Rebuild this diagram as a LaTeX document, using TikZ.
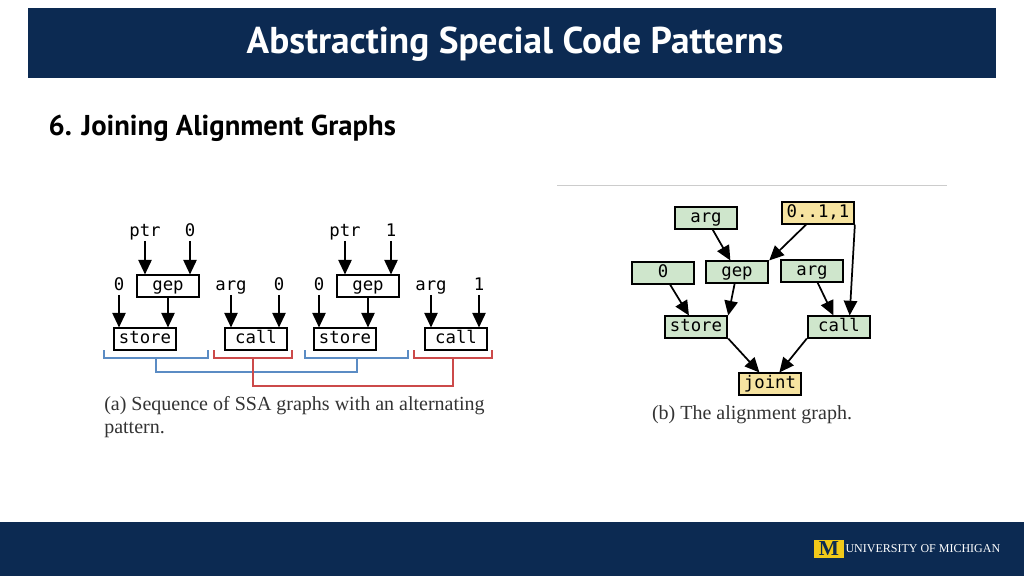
\documentclass[tikz,border=0pt]{standalone}
\usepackage{fontspec}
\setmainfont{Liberation Serif}
\newfontfamily\headfont{PT Sans}
\newfontfamily\codefont{DejaVu Sans Mono}
\usetikzlibrary{arrows.meta}
\usetikzlibrary{positioning}
\definecolor{umnavy}{HTML}{0C2A52}
\definecolor{umgold}{HTML}{F2C919}
\definecolor{opgreen}{HTML}{CFE6CC}
\definecolor{opyellow}{HTML}{F6E3A0}
\definecolor{setblue}{HTML}{5B8CC4}
\definecolor{setred}{HTML}{CC4A4A}
\tikzset{
  op/.style={draw,line width=1.3pt,minimum width=47pt,minimum height=16pt,
    inner sep=1pt,text height=9pt,text depth=2pt,
    font=\codefont\fontsize{13}{13}\selectfont},
  val/.style={inner sep=1pt,text height=9pt,text depth=2pt,
    font=\codefont\fontsize{13}{13}\selectfont},
  green/.style={op,fill=opgreen},
  yellow/.style={op,fill=opyellow},
  flow/.style={-{Triangle[width=10pt,length=11pt]},line width=1.3pt},
  bracket/.style={line width=0.8pt}
}
\begin{document}
\begin{tikzpicture}[x=0.75pt,y=-0.75pt]
  \useasboundingbox (0,0) rectangle (1024,576);

  % header and footer
  \fill[umnavy] (28,8) rectangle (996,78);
  \node[text=white,font=\headfont\bfseries\fontsize{28}{28}\selectfont]
    (Title) at (515,44) {Abstracting Special Code Patterns};
  \node[anchor=west,font=\headfont\bfseries\fontsize{21.5}{21.5}\selectfont]
    (Step) at (44,128) {6. Joining Alignment Graphs};
  \fill[umnavy] (0,522) rectangle (1024,576);
  \node[fill=umgold,text=umnavy,font=\bfseries\fontsize{16}{16}\selectfont,
    inner sep=0pt,minimum width=22pt,minimum height=14pt]
    (Logo) at (829,549) {M};
  \node[anchor=west,text=white,inner sep=1pt,font=\fontsize{9}{9}\selectfont]
    (Uni) at (Logo.east) {UNIVERSITY OF MICHIGAN};
  \draw[gray!40,line width=0.6pt] (557,185) -- (947,185);

  % (a) sequence of SSA graphs
  \node[val] (PtrA) at (145,232) {ptr};
  \node[val] (ZeroA) at (190,232) {0};
  \node[val] (PtrB) at (345,232) {ptr};
  \node[val] (OneB) at (391,232) {1};
  \node[op] (GepA) at (168,286) {gep};
  \node[op] (GepB) at (368,286) {gep};
  \node[val] (ZeroC) at (119,286) {0};
  \node[val] (ArgA) at (231,286) {arg};
  \node[val] (ZeroD) at (279,286) {0};
  \node[val] (ZeroE) at (319,286) {0};
  \node[val] (ArgB) at (431,286) {arg};
  \node[val] (OneC) at (479,286) {1};
  \node[op] (StoreA) at (145,339) {store};
  \node[op] (CallA) at (256,339) {call};
  \node[op] (StoreB) at (345,339) {store};
  \node[op] (CallB) at (456,339) {call};

  \path[flow]
    (PtrA) edge (PtrA |- GepA.north)
    (ZeroA) edge (ZeroA |- GepA.north)
    (PtrB) edge (PtrB |- GepB.north)
    (OneB) edge (OneB |- GepB.north)
    (ZeroC) edge (ZeroC |- StoreA.north)
    (GepA) edge (GepA |- StoreA.north)
    (ArgA) edge (ArgA |- CallA.north)
    (ZeroD) edge (ZeroD |- CallA.north)
    (ZeroE) edge (ZeroE |- StoreB.north)
    (GepB) edge (GepB |- StoreB.north)
    (ArgB) edge (ArgB |- CallB.north)
    (OneC) edge (OneC |- CallB.north);

  \draw[bracket,setblue] (104,350) |- (208,358) -- (208,350);
  \draw[bracket,setblue] (305,350) |- (408,358) -- (408,350);
  \draw[bracket,setred] (214,350) |- (292,358) -- (292,350);
  \draw[bracket,setred] (414,350) |- (492,358) -- (492,350);
  \draw[bracket,setblue] (156,358) |- (357,372) -- (357,358);
  \draw[bracket,setred] (253,358) |- (453,386) -- (453,358);

  \node[anchor=north west,align=left,inner sep=0pt,text=black!80,
    font=\fontsize{15}{17.5}\selectfont]
    (CapA) at (104,396) {(a) Sequence of SSA graphs with an alternating\\pattern.};

  % (b) the alignment graph
  \node[green] (ArgC) at (706,218) {arg};
  \node[yellow,minimum width=54pt] (Range) at (818,213) {0..1,1};
  \node[green] (ZeroF) at (663,273) {0};
  \node[green] (GepC) at (737,272) {gep};
  \node[green] (ArgD) at (812,271) {arg};
  \node[green] (StoreC) at (696,327) {store};
  \node[green] (CallC) at (839,327) {call};
  \node[yellow] (Joint) at (770,384) {joint};

  \path[flow]
    (ArgC) edge (GepC)
    (Range) edge (GepC.north east)
    (Range.south east) edge ([xshift=8pt]CallC.north)
    (ZeroF) edge (StoreC)
    (GepC) edge (StoreC.north east)
    (ArgD) edge (CallC)
    (StoreC.south east) edge (Joint)
    (CallC.south west) edge (Joint);

  \node[text=black!80,font=\fontsize{15}{17.5}\selectfont]
    (CapB) at (752,415) {(b) The alignment graph.};
\end{tikzpicture}
\end{document}
